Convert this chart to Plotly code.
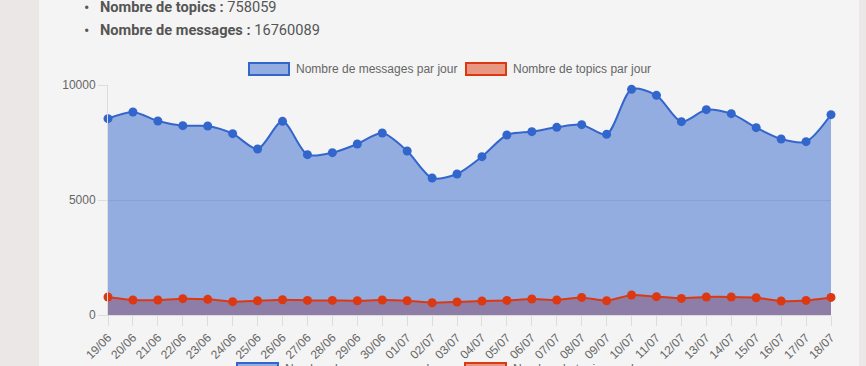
import plotly.graph_objects as go

dates = ["19/06", "20/06", "21/06", "22/06", "23/06", "24/06", "25/06", "26/06", "27/06", "28/06",
         "29/06", "30/06", "01/07", "02/07", "03/07", "04/07", "05/07", "06/07", "07/07", "08/07",
         "09/07", "10/07", "11/07", "12/07", "13/07", "14/07", "15/07", "16/07", "17/07", "18/07"]
messages = [8535, 8826, 8435, 8232, 8217, 7884, 7217, 8420, 6971, 7058,
            7435, 7913, 7130, 5957, 6130, 6884, 7826, 7971, 8159, 8275,
            7855, 9812, 9551, 8406, 8927, 8754, 8145, 7652, 7537, 8711]
topics = [783, 652, 652, 709, 680, 580, 620, 665, 635, 635,
          620, 650, 620, 535, 565, 608, 635, 695, 652, 765,
          620, 870, 796, 722, 783, 783, 752, 608, 635, 765]
y_ticks = [0, 5000, 10000]
n_topics_total = "758059"
n_messages_total = "16760089"
legend_labels = ["Nombre de messages par jour", "Nombre de topics par jour"]
legend_labels_bottom = ["Nombre de messages par heure", "Nombre de topics par heure"]

BLUE = "#3366cc"
RED = "#dc3912"
BLUE_FILL = "rgba(51,102,204,0.5)"
RED_FILL = "rgba(220,57,18,0.5)"

W, H = 866, 366
L, R, T, B = 108, 831, 85, 315
PW, PH = R - L, B - T

def px(x):
    return (x - L) / PW

def py(y):
    return (B - y) / PH

xs = list(range(len(dates)))

fig = go.Figure()
fig.add_trace(go.Scatter(x=xs, y=topics, mode="none", fill="tozeroy", fillcolor=RED_FILL,
                         line=dict(shape="spline", smoothing=0.8), showlegend=False, hoverinfo="skip"))
fig.add_trace(go.Scatter(x=xs, y=messages, mode="none", fill="tozeroy", fillcolor=BLUE_FILL,
                         line=dict(shape="spline", smoothing=0.8), showlegend=False, hoverinfo="skip"))
fig.add_trace(go.Scatter(x=xs, y=topics, mode="lines+markers", name=legend_labels[1],
                         line=dict(color=RED, width=2, shape="spline", smoothing=0.5),
                         marker=dict(color=RED, size=9), cliponaxis=False, showlegend=False))
fig.add_trace(go.Scatter(x=xs, y=messages, mode="lines+markers", name=legend_labels[0],
                         line=dict(color=BLUE, width=2, shape="spline", smoothing=0.8),
                         marker=dict(color=BLUE, size=9), cliponaxis=False, showlegend=False))

shapes = []
shapes.append(dict(type="rect", xref="paper", yref="paper", x0=px(0), x1=px(39), y0=py(H), y1=py(0),
                   fillcolor="#ebe7e6", line=dict(width=0), layer="below"))
shapes.append(dict(type="rect", xref="paper", yref="paper", x0=px(859), x1=px(W), y0=py(H), y1=py(0),
                   fillcolor="#ebe7e6", line=dict(width=0), layer="below"))

def legend_box(x0, x1, y0, y1, fill, col):
    return dict(type="rect", xref="paper", yref="paper", x0=px(x0), x1=px(x1), y0=py(y1), y1=py(y0),
                fillcolor=fill, line=dict(color=col, width=2), layer="above")

shapes.append(legend_box(249, 289, 63, 75, BLUE_FILL, BLUE))
shapes.append(legend_box(466, 506, 63, 75, RED_FILL, RED))
shapes.append(legend_box(237, 278, 363, 375, BLUE_FILL, BLUE))
shapes.append(legend_box(465, 506, 363, 375, RED_FILL, RED))

annots = []
lfont = dict(family="Liberation Sans, Arial, sans-serif", size=12, color="#666")
def text(x, y, s, font, anchor="left"):
    annots.append(dict(xref="paper", yref="paper", x=px(x), y=py(y), text=s, showarrow=False,
                       xanchor=anchor, yanchor="middle", font=font))

text(294, 68.5, legend_labels[0], lfont)
text(511, 68.5, legend_labels[1], lfont)
text(283, 368.5, legend_labels_bottom[0], lfont)
text(511, 368.5, legend_labels_bottom[1], lfont)

hfont = dict(family="Roboto, sans-serif", size=14.6, color="#555")
bfont = dict(family="Roboto, sans-serif", size=16, color="#555")
text(86.5, 7.5, "•", bfont, anchor="center")
text(86.5, 30.5, "•", bfont, anchor="center")
text(98, 7, "<b>Nombre de topics :</b> " + n_topics_total, hfont)
text(98, 30, "<b>Nombre de messages :</b> " + n_messages_total, hfont)

fig.update_layout(
    width=W, height=H,
    margin=dict(l=L, r=W - R, t=T, b=H - B, pad=0, autoexpand=False),
    paper_bgcolor="#f4f4f4", plot_bgcolor="#f4f4f4",
    showlegend=False,
    shapes=shapes, annotations=annots,
    xaxis=dict(range=[0, len(dates) - 1], tickvals=xs, ticktext=dates, tickangle=-45,
               automargin=False,
               showgrid=False, zeroline=False, showline=True, linecolor="#dddddd", linewidth=1,
               ticks="outside", ticklen=10, tickcolor="#dddddd",
               tickfont=dict(family="Liberation Sans, Arial, sans-serif", size=12, color="#666")),
    yaxis=dict(range=[0, 10000], tickvals=y_ticks, ticktext=[str(v) for v in y_ticks],
               automargin=False,
               showgrid=True, gridcolor="#dddddd", gridwidth=1,
               zeroline=False, showline=True, linecolor="#dddddd", linewidth=1,
               ticks="outside", ticklen=9, tickcolor="#dddddd",
               tickfont=dict(family="Liberation Sans, Arial, sans-serif", size=12, color="#666")),
)

fig.write_html("out.html")
